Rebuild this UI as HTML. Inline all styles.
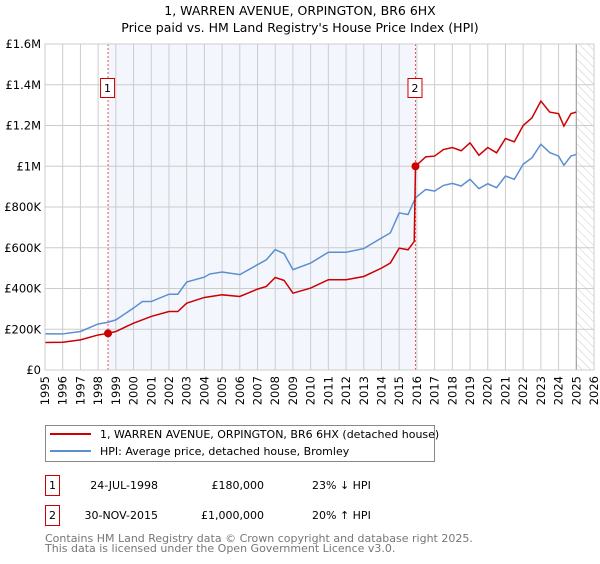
<!DOCTYPE html>
<html><head><meta charset="utf-8"><style>
body{margin:0;background:#fff;font-family:"DejaVu Sans","Liberation Sans",sans-serif;}
svg text{font-family:"DejaVu Sans","Liberation Sans",sans-serif;}
</style></head><body>
<svg id="chart" width="600" height="560" xmlns="http://www.w3.org/2000/svg">
<defs><pattern id="hatch" width="6" height="6" patternUnits="userSpaceOnUse" patternTransform="rotate(-45)"><line x1="0" y1="0" x2="0" y2="6" stroke="#ccc" stroke-width="1"/></pattern></defs>
<text x="300" y="15" text-anchor="middle" font-size="12.5">1, WARREN AVENUE, ORPINGTON, BR6 6HX</text>
<text x="300" y="32" text-anchor="middle" font-size="12.5">Price paid vs. HM Land Registry's House Price Index (HPI)</text>
<g id="plot"></g>
<g>
<rect x="45.5" y="425.5" width="389" height="36" fill="#fff" stroke="#888"/>
<line x1="50" y1="434" x2="91" y2="434" stroke="#cc0000" stroke-width="2"/>
<text x="100" y="438" font-size="11">1, WARREN AVENUE, ORPINGTON, BR6 6HX (detached house)</text>
<line x1="50" y1="451" x2="91" y2="451" stroke="#5b8fd0" stroke-width="2"/>
<text x="100" y="455" font-size="11">HPI: Average price, detached house, Bromley</text>
</g>
<g font-size="11">
<rect x="45.5" y="475.5" width="14" height="20" fill="#fff" stroke="#cc0000"/>
<text x="52.5" y="489" text-anchor="middle">1</text>
<text x="158" y="489" text-anchor="end">24-JUL-1998</text>
<text x="264" y="489" text-anchor="end">£180,000</text>
<text x="312" y="489">23% ↓ HPI</text>
<rect x="45.5" y="505.5" width="14" height="20" fill="#fff" stroke="#cc0000"/>
<text x="52.5" y="519" text-anchor="middle">2</text>
<text x="158" y="519" text-anchor="end">30-NOV-2015</text>
<text x="264" y="519" text-anchor="end">£1,000,000</text>
<text x="312" y="519">20% ↑ HPI</text>
</g>
<text x="45" y="542" font-size="11" fill="#777">Contains HM Land Registry data © Crown copyright and database right 2025.</text>
<text x="45" y="552" font-size="11" fill="#777">This data is licensed under the Open Government Licence v3.0.</text>
</svg>
<script>
const hpiYears=[1995,1996,1997,1998,1998.5,1999,2000,2000.5,2001,2002,2002.5,2003,2004,2004.3,2005,2006,2007,2007.5,2008,2008.5,2009,2010,2011,2012,2013,2014,2014.5,2015,2015.5,2015.92,2016.5,2017,2017.5,2018,2018.5,2019,2019.5,2020,2020.5,2021,2021.5,2022,2022.5,2023,2023.5,2024,2024.3,2024.7,2025];
const hpiValues=[177,177,189,226,233,246,304,336,336,372,372,432,456,471,481,468,517,541,591,571,492,525,578,578,596,648,673,771,763,845,886,878,906,916,903,936,890,914,895,952,936,1010,1042,1108,1067,1050,1005,1050,1058];
const priceYears=[1995,1996,1997,1998,1998.56,1999,2000,2001,2002,2002.5,2003,2004,2005,2006,2007,2007.5,2008,2008.5,2009,2010,2011,2012,2013,2014,2014.5,2015,2015.5,2015.85,2015.92,2016.5,2017,2017.5,2018,2018.5,2019,2019.5,2020,2020.5,2021,2021.5,2022,2022.5,2023,2023.5,2024,2024.3,2024.7,2025];
const priceValues=[135,136,148,172,180,189,230,263,287,287,328,356,369,361,397,410,454,440,377,402,443,443,459,500,525,598,590,631,1000,1046,1050,1082,1092,1076,1115,1054,1092,1066,1136,1120,1200,1238,1320,1266,1258,1197,1258,1266];
const saleYears=[1998.56,2015.92];
const saleValues=[180,1000];
const saleLabels=["1","2"];
const yTicks=[0,200,400,600,800,1000,1200,1400,1600];
const yTickLabels=["£0","£200K","£400K","£600K","£800K","£1M","£1.2M","£1.4M","£1.6M"];
const xTicks=[1995,1996,1997,1998,1999,2000,2001,2002,2003,2004,2005,2006,2007,2008,2009,2010,2011,2012,2013,2014,2015,2016,2017,2018,2019,2020,2021,2022,2023,2024,2025,2026];

const X0=45,X1=594,Y0=370,Y1=44;
const xs=y=>X0+(y-1995)/(2026-1995)*(X1-X0);
const ys=v=>Y0-v/1600*(Y0-Y1);
const NS="http://www.w3.org/2000/svg";
const g=document.getElementById('plot');
function mk(t,a){const e=document.createElementNS(NS,t);for(const k in a)e.setAttribute(k,a[k]);g.appendChild(e);return e;}
let e;
e=mk('rect',{x:xs(saleYears[0]),y:Y1,width:xs(saleYears[1])-xs(saleYears[0]),height:Y0-Y1,fill:'#eef3fc',opacity:0.7});


e=mk('rect',{x:xs(2025),y:Y1,width:X1-xs(2025),height:Y0-Y1,fill:'url(#hatch)'});


yTicks.forEach((v,i)=>{
 e=mk('line',{x1:X0,x2:X1,y1:ys(v),y2:ys(v),stroke:'#ccc','stroke-width':1});
 
 
 e=mk('text',{x:X0-4,y:ys(v)+4,'text-anchor':'end','font-size':11.5});
 e.textContent=yTickLabels[i];
 
 
});
xTicks.forEach(yr=>{
 e=mk('line',{x1:xs(yr),x2:xs(yr),y1:Y1,y2:Y0,stroke:'#ccc','stroke-width':1});
 
 
 const tx=xs(yr)+4, ty=Y0+6;
 e=mk('text',{x:tx,y:ty,'text-anchor':'end','font-size':11.5,transform:'rotate(-90,'+tx+','+ty+')'});
 e.textContent=yr;
 
 
});
e=mk('line',{x1:xs(2025),x2:xs(2025),y1:Y1,y2:Y0,stroke:'#999','stroke-width':1});


saleYears.forEach((yr,i)=>{
 e=mk('line',{x1:xs(yr),x2:xs(yr),y1:Y1,y2:Y0,stroke:'#ee5555','stroke-width':1,'stroke-dasharray':'2,2'});
 
 
});
e=mk('polyline',{points:hpiYears.map((y,i)=>xs(y)+','+ys(hpiValues[i])).join(' '),fill:'none',stroke:'#5b8fd0','stroke-width':1.5});


e=mk('polyline',{points:priceYears.map((y,i)=>xs(y)+','+ys(priceValues[i])).join(' '),fill:'none',stroke:'#cc0000','stroke-width':1.5});


saleYears.forEach((yr,i)=>{
 e=mk('circle',{cx:xs(yr),cy:ys(saleValues[i]),r:4,fill:'#cc0000'});
 
 
 e=mk('rect',{x:xs(yr)-7.5,y:78.5,width:14,height:19,fill:'#fff',stroke:'#cc0000'});
 
 
 e=mk('text',{x:xs(yr)-0.5,y:92,'text-anchor':'middle','font-size':11});
 e.textContent=saleLabels[i];
 
 
});
e=mk('rect',{x:X0,y:Y1,width:X1-X0,height:Y0-Y1,fill:'none',stroke:'#ccc'});


</script>
</body></html>
